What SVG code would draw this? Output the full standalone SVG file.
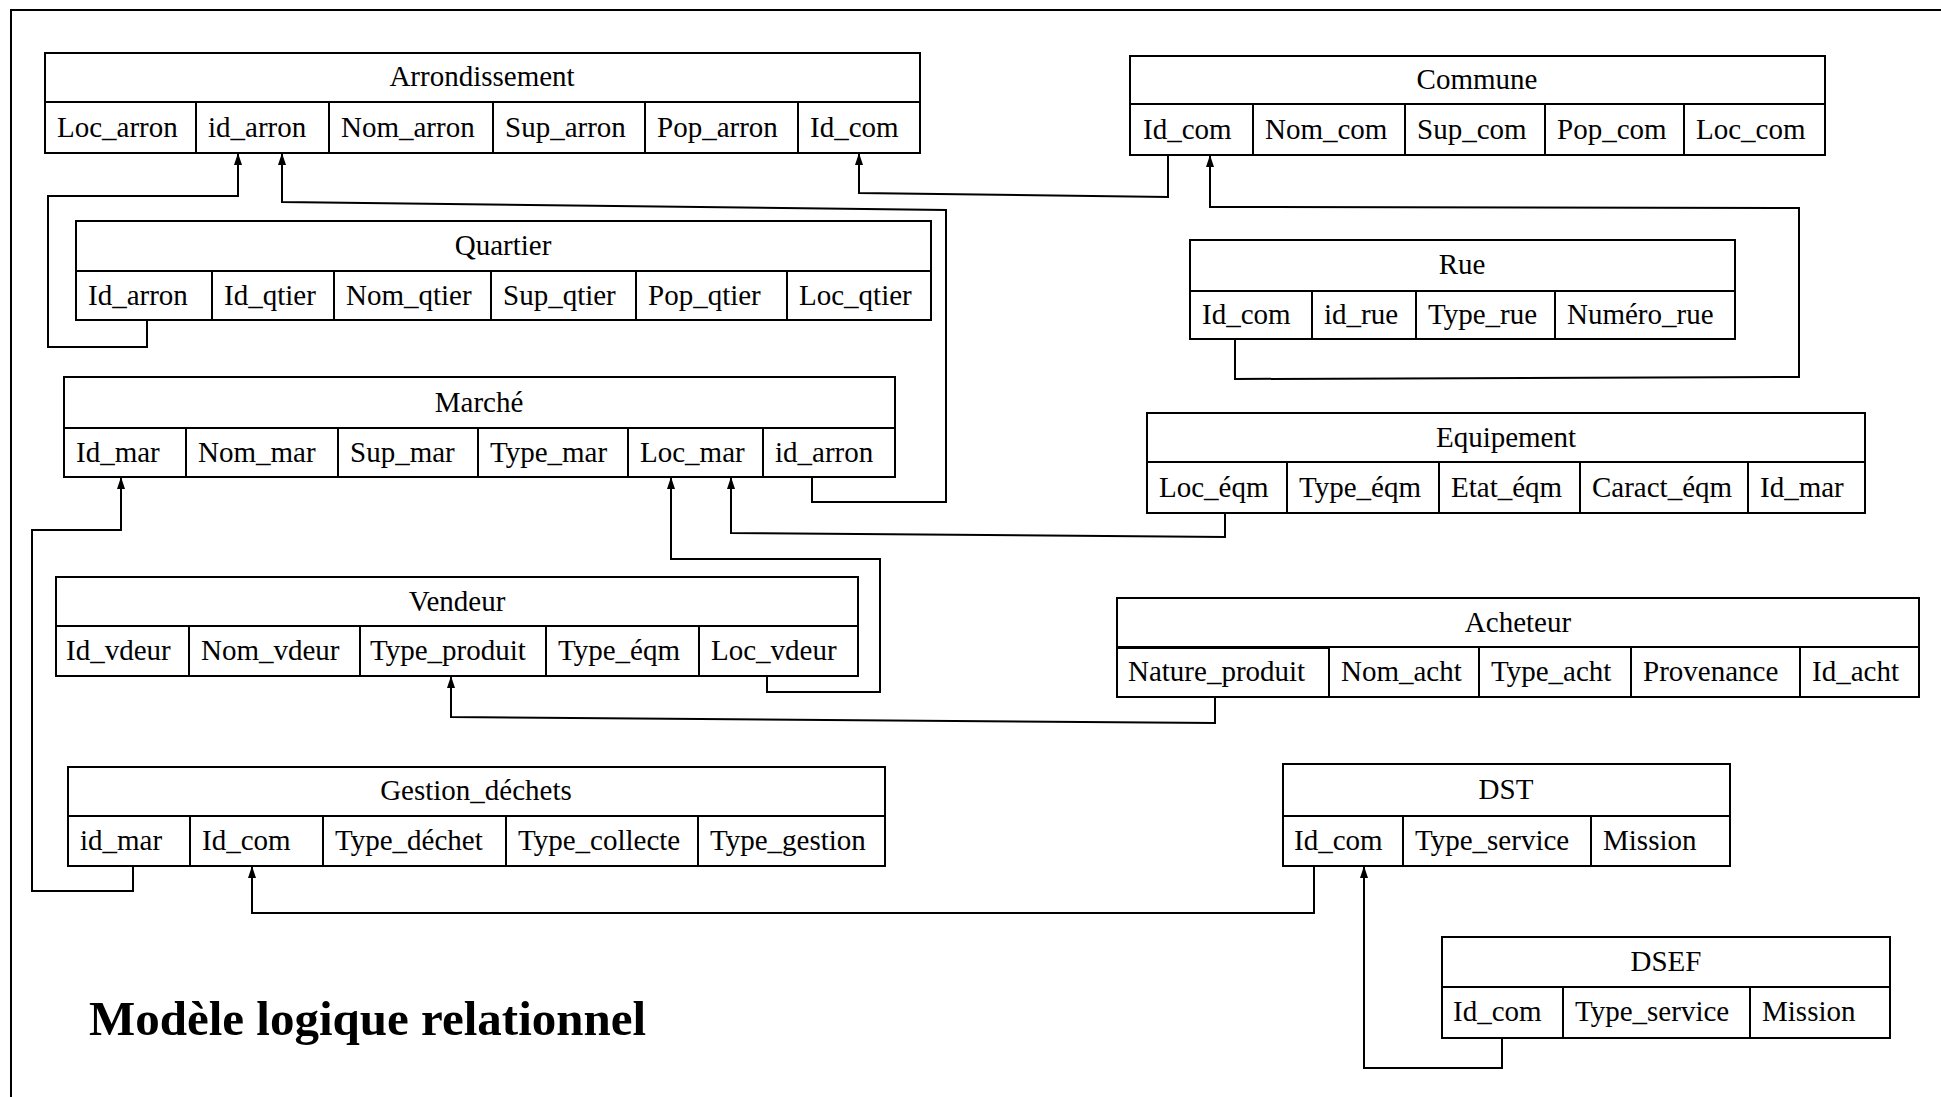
<svg xmlns="http://www.w3.org/2000/svg" width="1941" height="1097" viewBox="0 0 1941 1097">
<style>
.bg{fill:#fff}
.frame{fill:none;stroke:#000;stroke-width:2}
.box{fill:#fff;stroke:#000;stroke-width:2}
.sep{stroke:#000;stroke-width:2}
.t{font-family:"Liberation Serif","Times New Roman",serif;font-size:29px;fill:#000}
.h{text-anchor:middle}
.c{fill:none;stroke:#000;stroke-width:2;marker-end:url(#arr)}
.title{font-family:"Liberation Serif","Times New Roman",serif;font-size:49px;font-weight:bold;fill:#000}
</style>
<defs>
<marker id="arr" markerUnits="userSpaceOnUse" markerWidth="12" markerHeight="8" viewBox="0 0 12 8" refX="12" refY="4" orient="auto">
<path d="M0,0 L12,4 L0,8 z" fill="#000"/>
</marker>
</defs>
<rect class="bg" x="0" y="0" width="1941" height="1097"/>
<path class="frame" d="M11,1097 V10 H1941"/>

<g id="connectors">
<path class="c" d="M147,320 V347 H48 V196 H238 V153"/>
<path class="c" d="M812,477 V502 H946 V210 L282,202 V153"/>
<path class="c" d="M1168,155 V197 L859,193 V153"/>
<path class="c" d="M1235,339 V379 L1799,377 V208 L1210,207 V155"/>
<path class="c" d="M1225,513 V537 L731,533 V477"/>
<path class="c" d="M767,676 V692 H880 V559 H671 V477"/>
<path class="c" d="M1215,697 V723 L451,717 V676"/>
<path class="c" d="M133,866 V891 H32 V530 H121 V477"/>
<path class="c" d="M1314,866 V913 H252 V866"/>
<path class="c" d="M1502,1038 V1068 H1364 V866"/>
</g>

<g id="arrondissement">
<rect class="box" x="45" y="53" width="875" height="49"/>
<rect class="box" x="45" y="102" width="875" height="51"/>
<path class="sep" d="M196,102 V153 M329,102 V153 M493,102 V153 M645,102 V153 M798,102 V153"/>
<text class="t h" x="482" y="86">Arrondissement</text>
<text class="t" x="57" y="137">Loc_arron</text>
<text class="t" x="208" y="137">id_arron</text>
<text class="t" x="341" y="137">Nom_arron</text>
<text class="t" x="505" y="137">Sup_arron</text>
<text class="t" x="657" y="137">Pop_arron</text>
<text class="t" x="810" y="137">Id_com</text>
</g>

<g id="commune">
<rect class="box" x="1130" y="56" width="695" height="48"/>
<rect class="box" x="1130" y="104" width="695" height="51"/>
<path class="sep" d="M1253,104 V155 M1405,104 V155 M1545,104 V155 M1684,104 V155"/>
<text class="t h" x="1477" y="89">Commune</text>
<text class="t" x="1143" y="139">Id_com</text>
<text class="t" x="1265" y="139">Nom_com</text>
<text class="t" x="1417" y="139">Sup_com</text>
<text class="t" x="1557" y="139">Pop_com</text>
<text class="t" x="1696" y="139">Loc_com</text>
</g>

<g id="rue">
<rect class="box" x="1190" y="240" width="545" height="51"/>
<rect class="box" x="1190" y="291" width="545" height="48"/>
<path class="sep" d="M1312,291 V339 M1416,291 V339 M1555,291 V339"/>
<text class="t h" x="1462" y="274">Rue</text>
<text class="t" x="1202" y="324">Id_com</text>
<text class="t" x="1324" y="324">id_rue</text>
<text class="t" x="1428" y="324">Type_rue</text>
<text class="t" x="1567" y="324">Numéro_rue</text>
</g>

<g id="quartier">
<rect class="box" x="76" y="221" width="855" height="50"/>
<rect class="box" x="76" y="271" width="855" height="49"/>
<path class="sep" d="M212,271 V320 M334,271 V320 M491,271 V320 M636,271 V320 M787,271 V320"/>
<text class="t h" x="503" y="255">Quartier</text>
<text class="t" x="88" y="305">Id_arron</text>
<text class="t" x="224" y="305">Id_qtier</text>
<text class="t" x="346" y="305">Nom_qtier</text>
<text class="t" x="503" y="305">Sup_qtier</text>
<text class="t" x="648" y="305">Pop_qtier</text>
<text class="t" x="799" y="305">Loc_qtier</text>
</g>

<g id="marche">
<rect class="box" x="64" y="377" width="831" height="51"/>
<rect class="box" x="64" y="428" width="831" height="49"/>
<path class="sep" d="M186,428 V477 M338,428 V477 M478,428 V477 M628,428 V477 M763,428 V477"/>
<text class="t h" x="479" y="412">Marché</text>
<text class="t" x="76" y="462">Id_mar</text>
<text class="t" x="198" y="462">Nom_mar</text>
<text class="t" x="350" y="462">Sup_mar</text>
<text class="t" x="490" y="462">Type_mar</text>
<text class="t" x="640" y="462">Loc_mar</text>
<text class="t" x="775" y="462">id_arron</text>
</g>

<g id="vendeur">
<rect class="box" x="56" y="577" width="802" height="49"/>
<rect class="box" x="56" y="626" width="802" height="50"/>
<path class="sep" d="M189,626 V676 M360,626 V676 M546,626 V676 M699,626 V676"/>
<path class="sep" d="M56,626 H858" stroke-width="3"/>
<text class="t h" x="457" y="611">Vendeur</text>
<text class="t" x="66" y="660">Id_vdeur</text>
<text class="t" x="201" y="660">Nom_vdeur</text>
<text class="t" x="370" y="660">Type_produit</text>
<text class="t" x="558" y="660">Type_éqm</text>
<text class="t" x="711" y="660">Loc_vdeur</text>
</g>

<g id="equipement">
<rect class="box" x="1147" y="413" width="718" height="49"/>
<rect class="box" x="1147" y="462" width="718" height="51"/>
<path class="sep" d="M1287,462 V513 M1439,462 V513 M1580,462 V513 M1748,462 V513"/>
<text class="t h" x="1506" y="447">Equipement</text>
<text class="t" x="1159" y="497">Loc_éqm</text>
<text class="t" x="1299" y="497">Type_éqm</text>
<text class="t" x="1451" y="497">Etat_éqm</text>
<text class="t" x="1592" y="497">Caract_éqm</text>
<text class="t" x="1760" y="497">Id_mar</text>
</g>

<g id="acheteur">
<rect class="box" x="1117" y="598" width="802" height="49"/>
<rect class="box" x="1117" y="647" width="802" height="50"/>
<path class="sep" d="M1329,647 V697 M1479,647 V697 M1631,647 V697 M1800,647 V697"/>
<path class="sep" d="M1117,648 H1329" stroke-width="3"/>
<text class="t h" x="1518" y="632">Acheteur</text>
<text class="t" x="1128" y="681">Nature_produit</text>
<text class="t" x="1341" y="681">Nom_acht</text>
<text class="t" x="1491" y="681">Type_acht</text>
<text class="t" x="1643" y="681">Provenance</text>
<text class="t" x="1812" y="681">Id_acht</text>
</g>

<g id="gestion_dechets">
<rect class="box" x="68" y="767" width="817" height="49"/>
<rect class="box" x="68" y="816" width="817" height="50"/>
<path class="sep" d="M190,816 V866 M323,816 V866 M506,816 V866 M698,816 V866"/>
<text class="t h" x="476" y="800">Gestion_déchets</text>
<text class="t" x="80" y="850">id_mar</text>
<text class="t" x="202" y="850">Id_com</text>
<text class="t" x="335" y="850">Type_déchet</text>
<text class="t" x="518" y="850">Type_collecte</text>
<text class="t" x="710" y="850">Type_gestion</text>
</g>

<g id="dst">
<rect class="box" x="1283" y="764" width="447" height="52"/>
<rect class="box" x="1283" y="816" width="447" height="50"/>
<path class="sep" d="M1403,816 V866 M1591,816 V866"/>
<text class="t h" x="1506" y="799">DST</text>
<text class="t" x="1294" y="850">Id_com</text>
<text class="t" x="1415" y="850">Type_service</text>
<text class="t" x="1603" y="850">Mission</text>
</g>

<g id="dsef">
<rect class="box" x="1442" y="937" width="448" height="50"/>
<rect class="box" x="1442" y="987" width="448" height="51"/>
<path class="sep" d="M1563,987 V1038 M1750,987 V1038"/>
<text class="t h" x="1666" y="971">DSEF</text>
<text class="t" x="1453" y="1021">Id_com</text>
<text class="t" x="1575" y="1021">Type_service</text>
<text class="t" x="1762" y="1021">Mission</text>
</g>

<text class="title" x="89" y="1035">Modèle logique relationnel</text>
</svg>
